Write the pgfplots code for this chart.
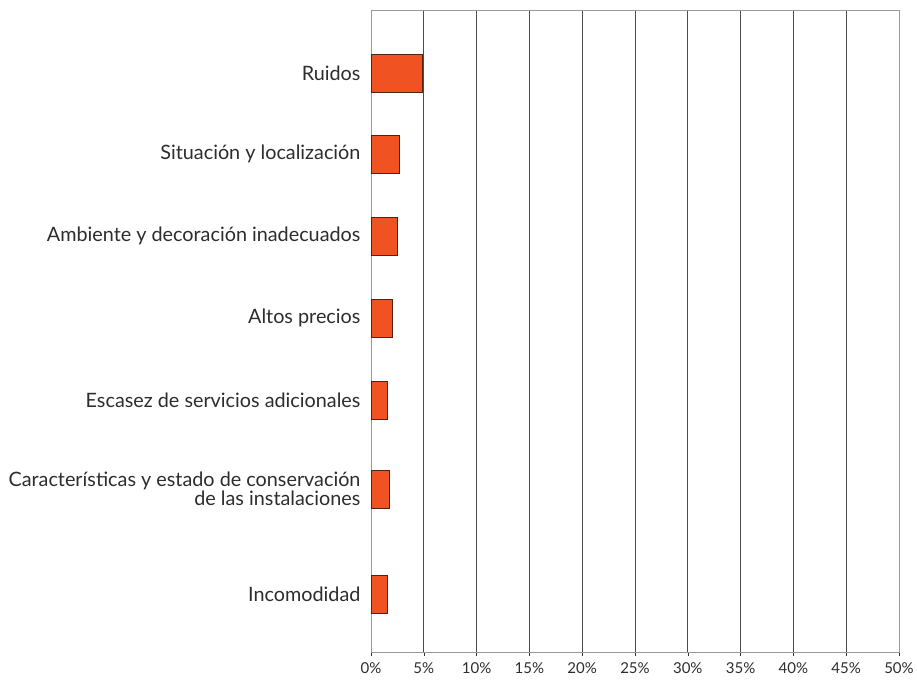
\documentclass[border=0pt]{standalone}
\usepackage{pgfplots}
\pgfplotsset{compat=1.18}
\usepackage{fontspec}
\setmainfont{Lato}
\definecolor{barfill}{RGB}{240,82,34}
\definecolor{bardraw}{RGB}{80,35,20}
\definecolor{txt}{RGB}{45,45,45}
\begin{document}
\begin{tikzpicture}[x=1pt,y=1pt]
\useasboundingbox (0,0) rectangle (917,680);
\begin{axis}[
  at={(371pt,28pt)}, anchor=south west,
  scale only axis, width=528pt, height=642pt,
  xmin=0, xmax=50, ymin=10, ymax=652, y dir=reverse,
  xbar, bar width=38,
  xtick={0,5,...,50},
  xticklabel={\pgfmathprintnumber{\tick}\%},
  /pgf/number format/assume math mode=true,
  xticklabel style={font=\fontsize{15}{17}\selectfont, text=txt, yshift=-3pt},
  ytick={73,154,236,318,400,489,594.5},
  yticklabels={Ruidos,Situación y localización,Ambiente y decoración inadecuados,Altos precios,Escasez de servicios adicionales,{Características y estado de conservación\\de las instalaciones},Incomodidad},
  yticklabel style={align=right, font=\fontsize{19.8}{17}\selectfont, text=txt, xshift=-3pt},
  ytick style={draw=none},
  x tick style={black!80, line width=0.6pt},
  tick align=outside, major tick length=4pt,
  xtick pos=bottom,
  xmajorgrids, major grid style={black!70, line width=0.9pt},
  axis line style={black!40, line width=0.9pt},
]
\addplot[fill=barfill, draw=bardraw, line width=0.9pt] coordinates {
(4.9,73) (2.7,154) (2.5,236) (2.0,318) (1.6,400) (1.75,489) (1.6,594.5)};
\end{axis}
\end{tikzpicture}
\end{document}
